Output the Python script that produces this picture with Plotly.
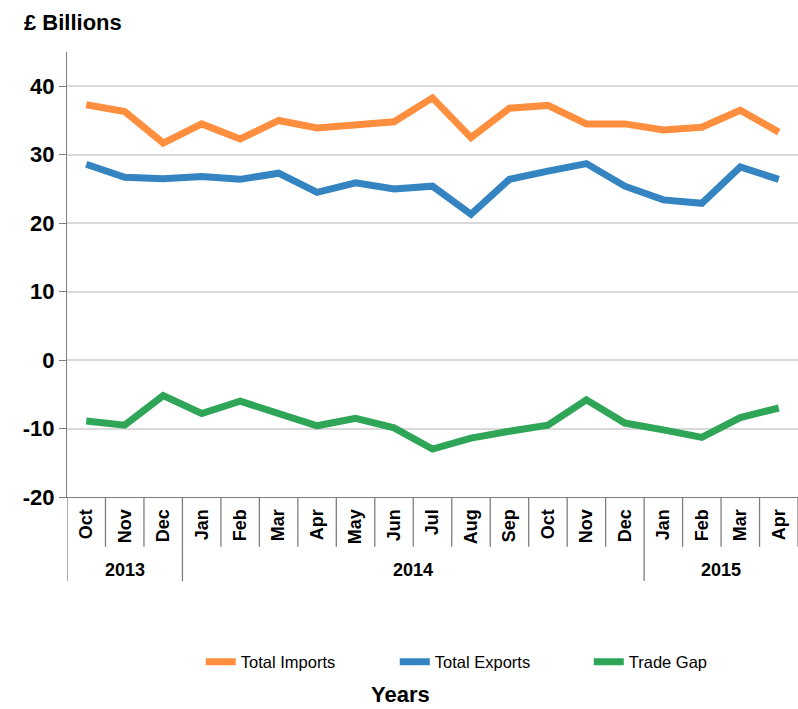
import plotly.graph_objects as go

months = ["Oct", "Nov", "Dec", "Jan", "Feb", "Mar", "Apr", "May", "Jun", "Jul",
          "Aug", "Sep", "Oct", "Nov", "Dec", "Jan", "Feb", "Mar", "Apr"]
years = ["2013", "2014", "2015"]
year_counts = [3, 12, 4]

imports = [37.3, 36.3, 31.7, 34.5, 32.3, 35.0, 33.9, 34.3, 34.8, 38.3,
           32.5, 36.8, 37.2, 34.5, 34.5, 33.6, 34.0, 36.5, 33.3]
exports = [28.6, 26.7, 26.5, 26.8, 26.4, 27.3, 24.5, 25.9, 25.0, 25.4,
           21.3, 26.4, 27.6, 28.7, 25.4, 23.4, 22.9, 28.2, 26.4]
trade_gap = [-8.9, -9.5, -5.2, -7.8, -6.0, -7.7, -9.6, -8.5, -9.9, -13.0,
             -11.4, -10.4, -9.5, -5.8, -9.2, -10.2, -11.3, -8.4, -7.0]

series = [("Total Imports", imports, "#FF8F3F"),
          ("Total Exports", exports, "#3384C1"),
          ("Trade Gap", trade_gap, "#2FA557")]

x = list(range(len(months)))
FONT = "Liberation Sans, Arial, sans-serif"

fig = go.Figure()
for name, vals, col in series:
    fig.add_trace(go.Scatter(x=x, y=vals, name=name, mode="lines",
                             line=dict(color=col, width=7)))

shapes = []
# month dividers
for i in range(len(months) + 1):
    shapes.append(dict(type="line", xref="x", yref="paper", x0=i - 0.5, x1=i - 0.5,
                       y0=0, y1=-0.112, line=dict(color="#7f7f7f", width=1.3)))
# year dividers and labels
annotations = []
start = 0
for yr, cnt in zip(years, year_counts):
    shapes.append(dict(type="line", xref="x", yref="paper", x0=start - 0.5, x1=start - 0.5,
                       y0=-0.112, y1=-0.189, line=dict(color="#7f7f7f", width=1.3)))
    annotations.append(dict(text="<b>%s</b>" % yr, xref="x", yref="paper",
                            x=start + (cnt - 1) / 2, y=-0.164, showarrow=False,
                            font=dict(family=FONT, size=18, color="black"),
                            xanchor="center", yanchor="middle"))
    start += cnt

annotations.append(dict(text="<b>£ Billions</b>", xref="paper", yref="paper",
                        x=-0.0615, y=1.067, xanchor="left", yanchor="middle",
                        showarrow=False, font=dict(family=FONT, size=22, color="black")))
annotations.append(dict(text="<b>Years</b>", xref="paper", yref="paper",
                        x=0.456, y=-0.444, xanchor="center", yanchor="middle",
                        showarrow=False, font=dict(family=FONT, size=22, color="black")))

fig.update_layout(
    width=798, height=709,
    margin=dict(l=67, r=0, t=52, b=212),
    paper_bgcolor="white", plot_bgcolor="white",
    font=dict(family=FONT, color="black"),
    shapes=shapes, annotations=annotations,
    legend=dict(orientation="h", x=0.183, xanchor="left", y=-0.371, yanchor="middle",
                font=dict(family=FONT, size=16.5, color="black"),
                entrywidth=149, entrywidthmode="pixels"),
    xaxis=dict(range=[-0.5, len(months) - 0.5], tickmode="array", tickvals=x,
               ticktext=["<b>%s</b>" % m for m in months], tickangle=-90,
               tickfont=dict(family=FONT, size=18, color="black"),
               showgrid=False, zeroline=False, showline=True, linecolor="#7f7f7f",
               linewidth=1.3, ticks="", ticklabelstandoff=4),
    yaxis=dict(range=[-20, 45], tickmode="array", tickvals=[-20, -10, 0, 10, 20, 30, 40],
               ticktext=["<b>%d</b>" % v for v in [-20, -10, 0, 10, 20, 30, 40]],
               tickfont=dict(family=FONT, size=22, color="black"),
               showgrid=True, gridcolor="#d9d9d9", gridwidth=2, zeroline=False,
               showline=True, linecolor="#7f7f7f", linewidth=1.3,
               ticks="outside", ticklen=7, tickcolor="#7f7f7f", tickwidth=1.3),
)

fig.write_html("out.html")
